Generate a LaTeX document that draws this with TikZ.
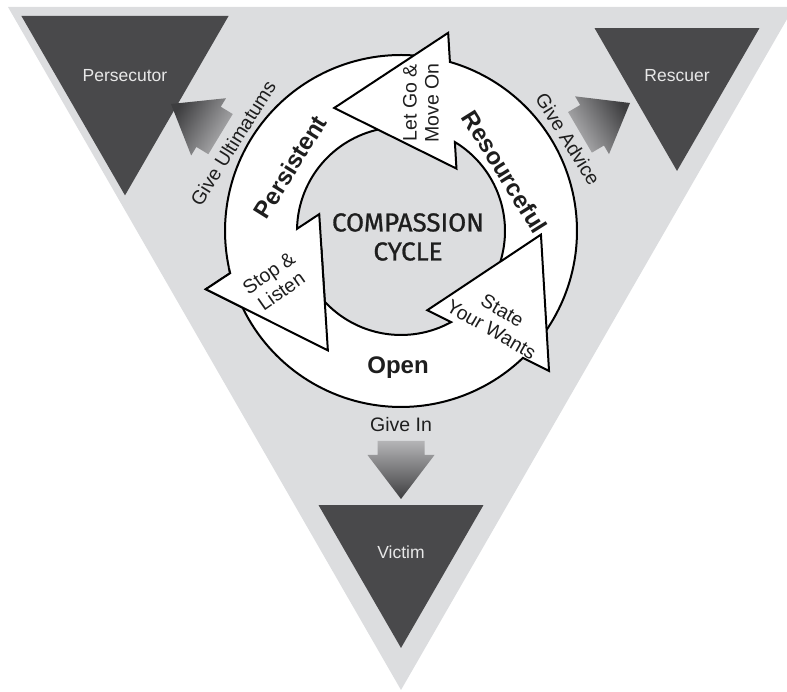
\documentclass[tikz,border=0pt]{standalone}
\usepackage{fontspec}
\setmainfont{Liberation Sans}
\newfontfamily\cyclefont{Fira Sans}[FakeBold=1]
\usetikzlibrary{shapes.geometric}
\definecolor{bggray}{RGB}{220,221,223}
\definecolor{rolegray}{RGB}{73,73,75}
\definecolor{rolefont}{RGB}{232,232,232}
\definecolor{inkgray}{RGB}{30,30,30}
\definecolor{shadelight}{RGB}{180,180,182}
\definecolor{shadedark}{RGB}{62,62,64}
\begin{document}
\begin{tikzpicture}[x=1pt,y=1pt,
        roletri/.style={regular polygon, regular polygon sides=3, shape border rotate=180,
            fill=rolegray, minimum size=190.5, inner sep=0, outer sep=0,
            text=rolefont, font=\fontsize{17.5}{21}\selectfont},
        bandarrow/.style={fill=white, draw=black, line width=2},
        bandlabel/.style={font=\fontsize{24}{28}\selectfont\bfseries, text=inkgray},
        headlabel/.style={align=center, font=\fontsize{19.5}{22}\selectfont, text=inkgray},
        givelabel/.style={font=\fontsize{19.5}{23}\selectfont, text=inkgray},
        cyclelabel/.style={align=center, font=\cyclefont\fontsize{26}{29}\selectfont, text=inkgray},
        cyclearrow/.pic={
            \draw[bandarrow] (-43:176) arc[start angle=-43, end angle=70.36, radius=176]
                -- (59.17,194.9) -- (-59.17,126.88) -- (59.17,58.9)
                -- (55.3:104) arc[start angle=55.3, end angle=-43, radius=104] -- cycle;
        },
        fatarrow/.pic={
            \shade[top color=shadedark, bottom color=shadelight, shading angle=#1]
                (0,0) -- (-44,33.5) -- (-44,23.5) -- (-58,23.5) -- (-58,-23.5)
                -- (-44,-23.5) -- (-44,-33.5) -- cycle;
        }]
    \useasboundingbox (0,0) rectangle (787,692);
    \clip (0,0) rectangle (787,692);
    \fill[bggray] (8,685) -- (794,685) -- (401,2) -- cycle;
    \node[roletri] (persecutor) at (125,616.3) {Persecutor};
    \node[roletri] (rescuer) at (677,616.3) {Rescuer};
    \node[roletri] (victim) at (401,139.3) {Victim};
    % the cycle: three arrows round one hub
    \coordinate (hub) at (401,461);
    \pic[rotate=123.5] at (hub) {cyclearrow};
    \pic[rotate=3.5] at (hub) {cyclearrow};
    \pic[rotate=243.5] at (hub) {cyclearrow};
    \begin{scope}
        \clip (hub) -- ++(192:240) arc[start angle=192, end angle=252, radius=240] -- cycle;
        \pic[rotate=123.5] at (hub) {cyclearrow};
    \end{scope}
    \node[cyclelabel] (cycle) at (408,455) {COMPASSION\\CYCLE};
    \node[bandlabel, rotate=58] (persistent) at (290,525) {Persistent};
    \node[bandlabel, rotate=-58] (resourceful) at (505,520) {Resourceful};
    \node[bandlabel] (open) at (398,324) {Open};
    \node[headlabel, rotate=90] (letgo) at (421,589) {Let Go \&\\Move On};
    \node[headlabel, rotate=35] (stop) at (275,410) {Stop \&\\Listen};
    \node[headlabel, rotate=-30] (state) at (497,372) {State\\Your Wants};
    % ways out of the cycle
    \pic[rotate=148.7] at (171,588) {fatarrow=58.7};
    \pic[rotate=30.4] at (630,589) {fatarrow=-59.6};
    \pic[rotate=-90] at (401,193) {fatarrow=-180};
    \node[givelabel, rotate=58] (ultimatums) at (233,549) {Give Ultimatums};
    \node[givelabel, rotate=-58] (advice) at (568,553) {Give Advice};
    \node[givelabel] (givein) at (401,267) {Give In};
\end{tikzpicture}
\end{document}
